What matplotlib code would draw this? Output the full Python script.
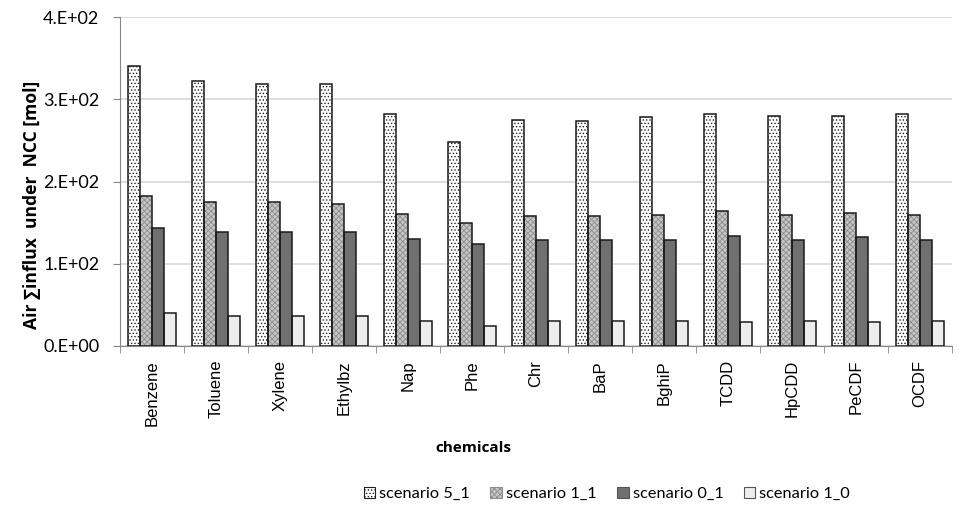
import numpy as np
import matplotlib
matplotlib.use("Agg")
import matplotlib.pyplot as plt
from matplotlib.patches import Patch
from matplotlib.ticker import FuncFormatter, FixedLocator

chemicals = ['Benzene', 'Toluene', 'Xylene', 'Ethylbz', 'Nap', 'Phe', 'Chr',
             'BaP', 'BghiP', 'TCDD', 'HpCDD', 'PeCDF', 'OCDF']
scenario_names = ['scenario 5_1', 'scenario 1_1', 'scenario 0_1', 'scenario 1_0']

s5_1 = [340, 322, 319, 318, 282, 248, 275, 274, 278, 282, 280, 280, 282]
s1_1 = [182, 175, 175, 173, 161, 150, 158, 158, 159, 164, 159, 162, 159]
s0_1 = [143, 138, 138, 138, 130, 124, 129, 129, 129, 134, 129, 133, 129]
s1_0 = [40, 37, 37, 37, 31, 24, 30, 30, 31, 29, 31, 29, 31]

series = [s5_1, s1_1, s0_1, s1_0]
# fill, hatch, hatch colour
styles = [('white', '.....', '#222222'),
          ('#c6c6c6', 'xxxxxx', '#8c8c8c'),
          ('#707070', '', '#707070'),
          ('#ededed', '', '#ededed')]

plt.rcParams['hatch.linewidth'] = 0.6

fig = plt.figure(figsize=(9.71, 5.11), dpi=100)
ax = fig.add_axes([0.1236, 0.3229, 0.8568, 0.6438])

x = np.arange(len(chemicals))
w = 0.185
for i, (vals, (fc, hatch, hc)) in enumerate(zip(series, styles)):
    pos = x + (i - 1.5) * w
    ax.bar(pos, vals, w, color=fc, edgecolor=hc, hatch=hatch, linewidth=0, zorder=2)
    ax.bar(pos, vals, w, fill=False, edgecolor='#1a1a1a', linewidth=1.1, zorder=3)

ax.set_xlim(-0.5, len(chemicals) - 0.5)
ax.set_ylim(0, 400)
ax.set_yticks([0, 100, 200, 300, 400])
ax.yaxis.set_major_formatter(FuncFormatter(lambda v, p: f"{v:#.0E}"))
ax.grid(axis='y', color='#d9d9d9', linewidth=1.2, zorder=0)
ax.set_axisbelow(True)

ax.set_xticks(x)
ax.set_xticklabels(chemicals, rotation=90, fontsize=12, family='Liberation Sans')
ax.tick_params(axis='x', which='major', length=0, pad=10)
ax.xaxis.set_minor_locator(FixedLocator(np.arange(-0.5, len(chemicals), 1.0)))
ax.tick_params(axis='x', which='minor', length=5, color='#868686', direction='out')
ax.tick_params(axis='y', length=5, color='#868686', labelsize=13, pad=10)
for lab in ax.get_yticklabels():
    lab.set_family('Lato')

for side in ['top', 'right']:
    ax.spines[side].set_visible(False)
for side in ['left', 'bottom']:
    ax.spines[side].set_color('#868686')

ax.set_ylabel('Air \u2211influx  under  NCC [mol]', fontsize=12.6, fontweight='bold',
              family=['Open Sans', 'DejaVu Sans'])
ax.yaxis.set_label_coords(-0.095, 0.43)
ax.set_xlabel('chemicals', fontsize=11, fontweight='bold', family='Open Sans')
ax.xaxis.set_label_coords(0.425, -0.29)

handles = [Patch(facecolor=fc, edgecolor=(hc if hatch else '#555555'), hatch=hatch, linewidth=0.8)
           for fc, hatch, hc in styles]
fig.legend(handles, scenario_names, loc='center', bbox_to_anchor=(0.625, 0.033), ncol=4,
           frameon=False, prop={'family': 'Lato', 'size': 11.8},
           handlelength=0.7, handleheight=0.7, handletextpad=0.25, columnspacing=1.25)

fig.savefig('out.png', dpi=100)
